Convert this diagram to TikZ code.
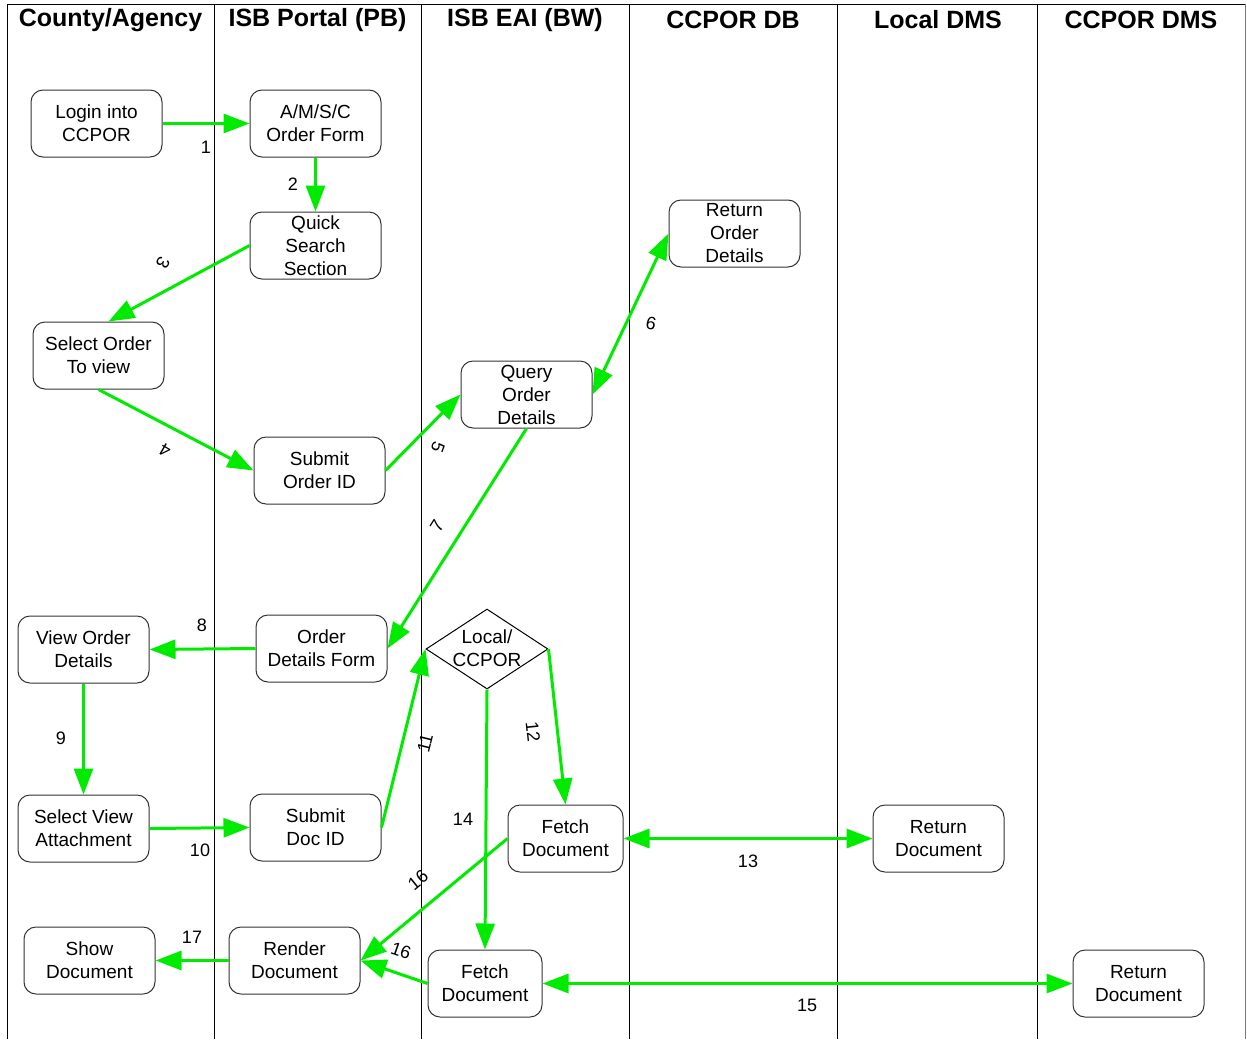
\documentclass[tikz,border=0pt]{standalone}
\usepackage{fontspec}
\setmainfont{Liberation Sans}
\usetikzlibrary{arrows.meta,shapes.geometric}
\definecolor{flowgreen}{RGB}{0,235,0}
\definecolor{framegray}{RGB}{120,120,120}

\begin{document}
\begin{tikzpicture}[x=1pt,y=-1pt,
  box/.style={draw=black!80, line width=1pt, rounded corners=12pt, fill=white,
    minimum width=131pt, minimum height=67pt, align=center, inner sep=0pt,
    font=\fontsize{19}{23}\selectfont},
  decision/.style={draw=black, line width=1pt, diamond, fill=white,
    minimum width=122pt, minimum height=80pt, inner sep=0pt},
  lane/.style={draw=black, line width=1pt},
  head/.style={font=\bfseries\fontsize{25}{28}\selectfont, anchor=center},
  lbl/.style={font=\fontsize{18}{20}\selectfont, inner sep=0pt},
  tip/.style={Triangle[length=26pt,width=19pt]},
  flow/.style={draw=flowgreen, line width=3pt, -{Triangle[length=26pt,width=19pt]}},
  both/.style={draw=flowgreen, line width=3pt,
    {Triangle[length=26pt,width=19pt]}-{Triangle[length=26pt,width=19pt]}}]

\useasboundingbox (0,0) rectangle (1247,1039);

% swimlane frame
\draw[lane] (7,1039) -- (7,4) -- (1245,4);
\draw[lane, draw=framegray] (1245,4) -- (1245,1039);
\foreach \x in {214,421,629,837,1037}
  \draw[lane] (\x,4) -- (\x,1039);

% lane titles
\node[head] (h1) at (110.5,20) {County/Agency};
\node[head] (h2) at (317.5,20) {ISB Portal (PB)};
\node[head] (h3) at (525,20) {ISB EAI (BW)};
\node[head] (h4) at (733,20) {CCPOR DB};
\node[head] (h5) at (938,20) {Local DMS};
\node[head] (h6) at (1141,20) {CCPOR DMS};

% process steps
\node[box] (login)  at (96.5,123.5)  {Login into\\CCPOR};
\node[box] (amsc)   at (315.5,123.5) {A/M/S/C\\Order Form};
\node[box] (quick)  at (315.5,245.5) {Quick\\Search\\Section};
\node[box] (selord) at (98.5,355.5)  {Select Order\\To view};
\node[box] (subord) at (319.5,470.5) {Submit\\Order ID};
\node[box] (query)  at (526.5,394.5) {Query\\Order\\Details};
\node[box] (retord) at (734.5,233.5) {Return\\Order\\Details};
\node[box] (vieword) at (83.5,649.5) {View Order\\Details};
\node[box] (odform) at (321.5,648.5) {Order\\Details Form};
\node[decision] (dec) at (487,649) {};
\node[font=\fontsize{19}{23}\selectfont, align=center, inner sep=0pt] (dectext) at (487,648.5) {Local/\\CCPOR};
\node[box] (selview) at (83.5,828.5) {Select View\\Attachment};
\node[box] (subdoc) at (315.5,827.5) {Submit\\Doc ID};
\node[box, minimum width=115pt] (fetchA) at (565.5,838.5) {Fetch\\Document};
\node[box] (retA)   at (938.5,838.5) {Return\\Document};
\node[box] (show)   at (89.5,960.5)  {Show\\Document};
\node[box] (render) at (294.5,960.5) {Render\\Document};
\node[box, minimum width=114pt] (fetchB) at (485,983.5) {Fetch\\Document};
\node[box] (retB)   at (1138.5,983.5) {Return\\Document};

% connectors
\draw[flow] (login.east) -- (amsc.west);
\draw[flow] (amsc.south) -- (quick.north);
\draw[flow] (quick.west) -- ([xshift=10pt]selord.north);
\draw[flow] (selord.south) -- (subord.west);
\draw[flow] (subord.east) -- (query.west);
\draw[both] (query.east) -- (retord.west);
\draw[flow] (query.south) -- (odform.east);
\draw[flow] (odform.west) -- (vieword.east);
\draw[flow] (vieword.south) -- (selview.north);
\draw[flow] (selview.east) -- (subdoc.west);
\draw[flow] (subdoc.east) -- (dec.west);
\draw[flow] (dec.east) -- (fetchA.north);
\draw[both] (fetchA.east) -- (retA.west);
\draw[flow] (dec.south) -- (fetchB.north);
\draw[both] (fetchB.east) -- (retB.west);
\draw[flow] (fetchA.west) -- (render.east);
\draw[flow] (fetchB.west) -- (render.east);
\draw[flow] (render.west) -- (show.east);

% step numbers
\node[lbl] (n1) at (206,147) {1};
\node[lbl] (n2) at (293,184) {2};
\node[lbl, rotate=-118] (n3) at (163,263) {3};
\node[lbl, rotate=150] (n4) at (165,450) {4};
\node[lbl, rotate=-110] (n5) at (438,447) {5};
\node[lbl, rotate=-12] (n6) at (651,323) {6};
\node[lbl, rotate=58] (n7) at (437,526) {7};
\node[lbl] (n8) at (202,625) {8};
\node[lbl] (n9) at (61,738) {9};
\node[lbl] (n10) at (200,850) {10};
\node[lbl, rotate=76] (n11) at (425,743) {11};
\node[lbl, rotate=-84] (n12) at (533,732) {12};
\node[lbl] (n13) at (748,861) {13};
\node[lbl] (n14) at (463,819) {14};
\node[lbl] (n15) at (807,1005) {15};
\node[lbl, rotate=39] (n16a) at (418,880) {16};
\node[lbl, rotate=-19] (n16b) at (401,951) {16};
\node[lbl] (n17) at (192,937) {17};

\end{tikzpicture}
\end{document}
